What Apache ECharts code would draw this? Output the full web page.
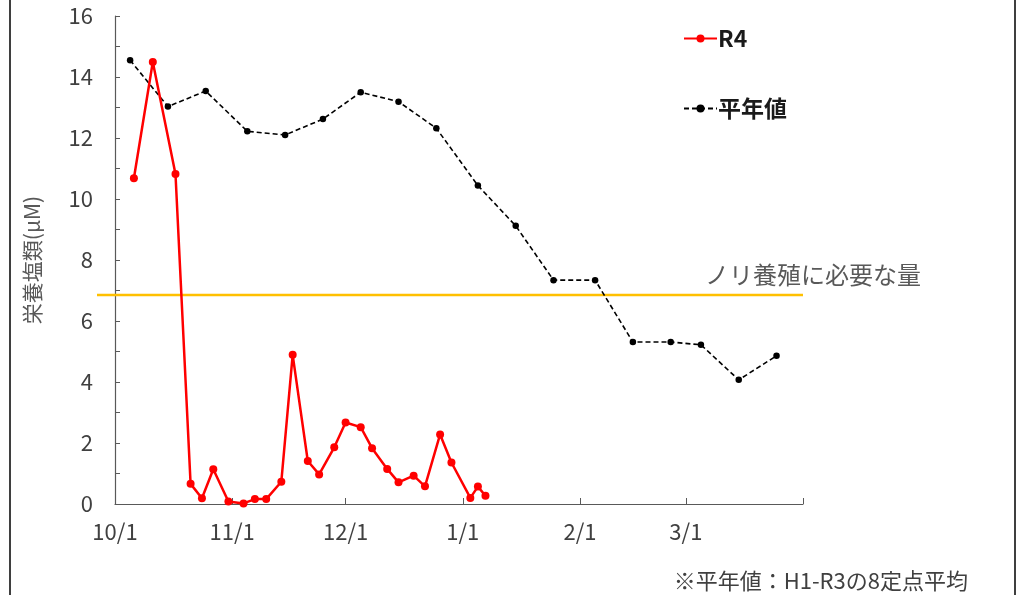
<!DOCTYPE html>
<html>
<head>
<meta charset="utf-8">
<script src="https://cdn.jsdelivr.net/npm/echarts@6/dist/echarts.min.js"></script>
<style>
html,body{margin:0;padding:0;background:#fff;}
#main{width:1023px;height:595px;}
</style>
</head>
<body>
<div id="main"></div>
<script>
// ---- data ----
const r4Dates = ['10/6','10/11','10/17','10/21','10/24','10/27','10/31','11/4','11/7','11/10','11/14','11/17','11/21','11/24','11/28','12/1','12/5','12/8','12/12','12/15','12/19','12/22','12/26','12/29','1/3','1/5','1/7'];
const r4Values = [10.68,14.49,10.82,0.66,0.19,1.14,0.08,0.02,0.16,0.16,0.73,4.89,1.41,0.97,1.86,2.67,2.52,1.83,1.15,0.71,0.93,0.58,2.28,1.36,0.20,0.57,0.27];
const normalDates = ['10/5','10/15','10/25','11/5','11/15','11/25','12/5','12/15','12/25','1/5','1/15','1/25','2/5','2/15','2/25','3/5','3/15','3/25'];
const normalValues = [14.55,13.03,13.54,12.22,12.10,12.62,13.50,13.19,12.32,10.44,9.12,7.34,7.34,5.31,5.31,5.22,4.07,4.86];
const xTickLabels = ['10/1','11/1','12/1','1/1','2/1','3/1'];
const xAxisEnd = '4/1';
const requiredLevel = 6.85;
const requiredLabel = 'ノリ養殖に必要な量';
const yAxisName = '栄養塩類(μM)';
const footnote = '※平年値：H1-R3の8定点平均';

// ---- helpers ----
const BASE = Date.UTC(2022, 9, 1);
function dayOf(s) {
  const [m, d] = s.split('/').map(Number);
  const y = m >= 10 ? 2022 : 2023;
  return Math.round((Date.UTC(y, m - 1, d) - BASE) / 86400000);
}
function labelOf(v) {
  const dt = new Date(BASE + v * 86400000);
  return (dt.getUTCMonth() + 1) + '/' + dt.getUTCDate();
}
const r4Data = r4Dates.map((d, i) => [dayOf(d), r4Values[i]]);
const normalData = normalDates.map((d, i) => [dayOf(d), normalValues[i]]);
const labelDays = xTickLabels.map(dayOf);
const tickDays = labelDays.concat([dayOf(xAxisEnd)]);

const FONT = '"Noto Sans CJK JP", "Noto Sans", sans-serif';
const chart = echarts.init(document.getElementById('main'));
const option = {
  animation: false,
  backgroundColor: '#fff',
  textStyle: { fontFamily: FONT },
  grid: { left: 115, right: 220, top: 16, bottom: 91, containLabel: false },
  legend: {
    orient: 'vertical',
    left: 678,
    top: 22,
    itemGap: 47,
    itemWidth: 33,
    itemHeight: 10,
    textStyle: { fontSize: 23, fontWeight: 'bold', color: '#1a1a1a', fontFamily: FONT, padding: [0,0,0,-4] },
    data: ['R4', '平年値']
  },
  xAxis: {
    type: 'value',
    min: 0,
    max: dayOf(xAxisEnd),
    splitLine: { show: false },
    axisLine: { lineStyle: { color: '#595959', width: 1.2 } },
    axisTick: { inside: true, length: 6, customValues: tickDays, lineStyle: { color: '#595959' } },
    axisLabel: {
      customValues: labelDays,
      formatter: v => labelOf(v),
      fontSize: 22, color: '#404040', margin: 17, fontFamily: FONT
    }
  },
  yAxis: {
    type: 'value',
    min: 0, max: 16, interval: 2,
    name: yAxisName,
    nameLocation: 'middle',
    nameGap: 72,
    nameRotate: 90,
    nameTextStyle: { fontSize: 21, color: '#595959', fontFamily: FONT },
    splitLine: { show: false },
    axisLine: { show: true, lineStyle: { color: '#595959', width: 1.2 } },
    axisTick: { show: true, inside: true, length: 5, lineStyle: { color: '#595959' } },
    minorTick: { show: true, splitNumber: 2, length: 5, lineStyle: { color: '#595959' } },
    axisLabel: { fontSize: 22, color: '#404040', margin: 22, fontFamily: FONT }
  },
  series: [
    {
      name: 'R4',
      type: 'line',
      data: r4Data,
      color: '#ff0000',
      symbol: 'circle',
      symbolSize: 8,
      lineStyle: { width: 2.5, color: '#ff0000' },
      itemStyle: { color: '#ff0000' },
      z: 5
    },
    {
      name: '平年値',
      type: 'line',
      data: normalData,
      color: '#000',
      symbol: 'circle',
      symbolSize: 6.5,
      lineStyle: { width: 1.6, type: [5, 3], color: '#000' },
      itemStyle: { color: '#000' },
      z: 4
    }
  ]
};
chart.setOption(option);

const yLine = chart.convertToPixel({ yAxisIndex: 0 }, requiredLevel);
const xEnd = chart.convertToPixel({ xAxisIndex: 0 }, dayOf(xAxisEnd));
chart.setOption({
  graphic: [
    {
      type: 'line', z: 1,
      shape: { x1: 97, y1: yLine, x2: xEnd, y2: yLine },
      style: { stroke: '#ffc000', lineWidth: 2.5 }
    },
    {
      type: 'text', z: 10,
      x: 705, y: yLine - 20,
      style: { text: requiredLabel, font: '24px ' + FONT, fill: '#595959', verticalAlign: 'middle' }
    },
    {
      type: 'text', z: 10,
      x: 968, y: 581,
      style: { text: footnote, font: '22px ' + FONT, fill: '#404040', align: 'right', verticalAlign: 'middle' }
    },
    {
      type: 'rect', z: 20, silent: true,
      shape: { x: 10, y: -5, width: 1005, height: 610 },
      style: { fill: 'none', stroke: '#000', lineWidth: 1.5 }
    }
  ]
});
</script>
</body>
</html>
